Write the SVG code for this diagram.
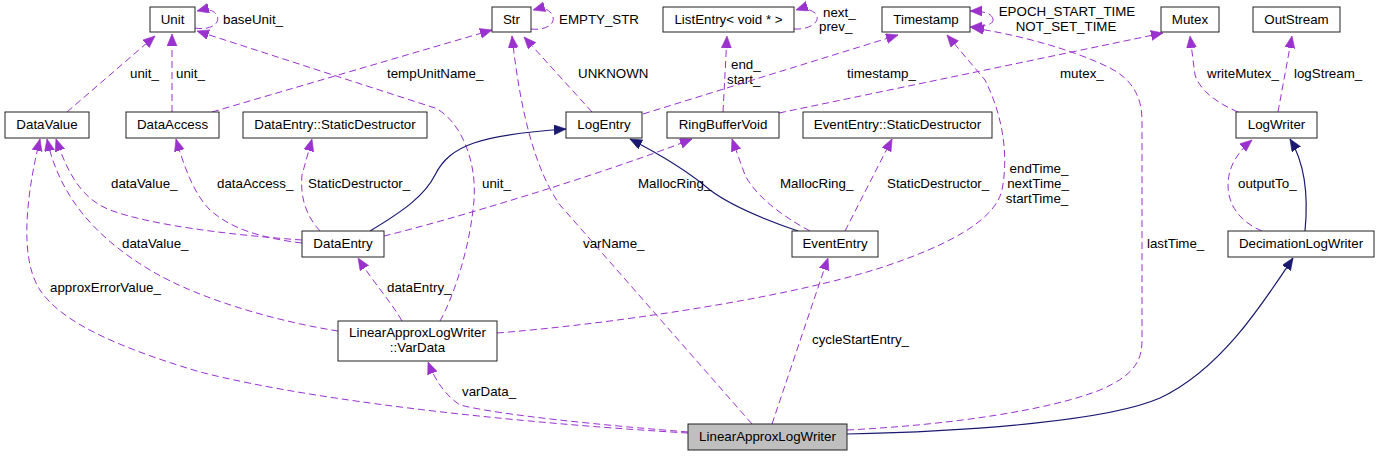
<svg xmlns="http://www.w3.org/2000/svg" width="1381" height="456" viewBox="0 0 1381 456">
<style>
text{font-family:"Liberation Sans",Arial,Helvetica,sans-serif;font-size:13.33px;fill:#000}
.n rect{fill:#fff;stroke:#222;stroke-width:1}
.n text{text-anchor:middle}
.u{fill:none;stroke:#9a32cd;stroke-width:1;stroke-dasharray:7,4;marker-end:url(#ap)}
.i{fill:none;stroke:#191970;stroke-width:1.2;marker-end:url(#ab)}
.m{text-anchor:middle}
</style>
<defs>
<marker id="ap" markerUnits="userSpaceOnUse" markerWidth="13" markerHeight="11" refX="12" refY="5" orient="auto"><path d="M0,0 L12,5 L0,10 z" fill="#9a32cd" stroke="#9a32cd" stroke-width="0.6"/></marker>
<marker id="ab" markerUnits="userSpaceOnUse" markerWidth="13" markerHeight="11" refX="12" refY="5" orient="auto"><path d="M0,0 L12,5 L0,10 z" fill="#191970" stroke="#191970" stroke-width="0.6"/></marker>
</defs>
<rect width="1381" height="456" fill="#fff"/>
<g id="edges">
<path class="u" d="M195,28 C212,31 222,22 216,14 C212,9 205,9 197,11"/>
<text x="223" y="24">baseUnit_</text>
<path class="u" d="M67,112 L155,36"/>
<text x="130" y="78">unit_</text>
<path class="u" d="M172,112 L172,34"/>
<text x="176" y="78">unit_</text>
<path class="u" d="M212,112 L492,30"/>
<text x="387" y="78">tempUnitName_</text>
<path class="u" d="M440,321 C452,300 470,250 474,200 C477,160 460,120 435,108 L197,31"/>
<text x="482" y="188">unit_</text>
<path class="u" d="M531,29 C548,31 558,22 551,13 C547,8 540,8 533,10"/>
<text x="559" y="24">EMPTY_STR</text>
<path class="u" d="M592,112 L524,37"/>
<text x="578" y="78">UNKNOWN</text>
<path class="u" d="M752,424 L560,205 C535,170 520,110 512,36"/>
<text x="583" y="248">varName_</text>
<path class="u" d="M794,29 C812,30 822,20 815,13 C810,9 802,8 796,10"/>
<text x="823" y="17">next_</text>
<text x="819" y="31">prev_</text>
<path class="u" d="M723,112 L727,36"/>
<text x="731" y="69">end_</text>
<text x="727" y="84">start_</text>
<path class="u" d="M643,114 L898,35"/>
<text x="847" y="78">timestamp_</text>
<path class="u" d="M779,113 L1163,33"/>
<text x="1060" y="78">mutex_</text>
<path class="u" d="M993,19 C994,24 986,27 970,27"/>
<path class="u" d="M993,19 C992,14 985,11 970,11"/>
<text class="m" x="1067" y="16">EPOCH_START_TIME</text>
<text class="m" x="1066" y="31">NOT_SET_TIME</text>
<path class="u" d="M497,333 C600,325 780,300 880,268 C950,245 995,220 1002,190 C1008,160 1005,120 985,80 L947,35"/>
<text class="m" x="1039" y="173">endTime_</text>
<text class="m" x="1038" y="188">nextTime_</text>
<text class="m" x="1037" y="203">startTime_</text>
<path class="u" d="M847,430 C950,425 1050,410 1100,390 C1135,375 1142,360 1142,340 L1142,120 C1142,95 1130,78 1110,68 C1070,48 1010,33 972,28"/>
<text x="1147" y="248">lastTime_</text>
<path class="u" d="M1238,112 C1215,102 1200,90 1195,75 L1190,36"/>
<text x="1207" y="78">writeMutex_</text>
<path class="u" d="M1278,112 L1292,36"/>
<text x="1294" y="78">logStream_</text>
<path class="u" d="M1262,231 C1240,222 1228,205 1228,185 C1228,165 1240,150 1252,140"/>
<text x="1238" y="188">outputTo_</text>
<path class="i" d="M1305,231 C1308,200 1306,165 1290,139"/>
<path class="i" d="M847,434 C980,431 1110,420 1160,398 C1220,370 1262,305 1293,258"/>
<path class="i" d="M370,231 C405,210 425,195 435,175 C450,145 480,135 566,129"/>
<path class="i" d="M798,231 C760,218 730,205 710,190 C690,173 665,157 630,139"/>
<path class="u" d="M384,236 C450,220 600,175 692,139"/>
<text x="638" y="188">MallocRing_</text>
<path class="u" d="M810,231 C780,215 755,195 745,175 L732,139"/>
<text x="780" y="188">MallocRing_</text>
<path class="u" d="M845,231 L892,139"/>
<text x="887" y="188">StaticDestructor_</text>
<path class="u" d="M320,231 C305,215 300,195 302,175 L312,139"/>
<text x="308" y="188">StaticDestructor_</text>
<path class="u" d="M302,243 C260,238 230,228 210,210 C195,195 185,170 176,139"/>
<text x="217" y="188">dataAccess_</text>
<path class="u" d="M302,240 C230,235 150,225 110,210 C85,200 70,180 56,139"/>
<text x="111" y="188">dataValue_</text>
<path class="u" d="M338,331 C280,322 200,300 150,270 C100,240 60,200 47,139"/>
<text x="122" y="248">dataValue_</text>
<path class="u" d="M688,433 C550,425 330,405 200,372 C110,345 60,320 40,290 C20,260 25,200 40,139"/>
<text x="50" y="292">approxErrorValue_</text>
<path class="u" d="M402,321 C390,300 375,285 358,258"/>
<text x="387" y="292">dataEntry_</text>
<path class="u" d="M688,432 C600,425 500,415 460,405 C445,395 435,380 428,362"/>
<text x="462" y="396">varData_</text>
<path class="u" d="M772,424 L828,258"/>
<text x="812" y="344">cycleStartEntry_</text>
</g>
<g id="Unit" class="n"><rect x="150" y="7" width="45" height="25"/><text x="172.5" y="23.5">Unit</text></g>
<g id="Str" class="n"><rect x="492" y="7" width="39" height="25"/><text x="511.5" y="23.5">Str</text></g>
<g id="ListEntry" class="n"><rect x="663" y="7" width="131" height="25"/><text x="728.5" y="23.5">ListEntry&lt; void * &gt;</text></g>
<g id="Timestamp" class="n"><rect x="882" y="7" width="88" height="25"/><text x="926" y="23.5">Timestamp</text></g>
<g id="Mutex" class="n"><rect x="1161" y="7" width="58" height="25"/><text x="1190" y="23.5">Mutex</text></g>
<g id="OutStream" class="n"><rect x="1253" y="7" width="87" height="25"/><text x="1296.5" y="23.5">OutStream</text></g>
<g id="DataValue" class="n"><rect x="5" y="112" width="84" height="26"/><text x="47" y="129">DataValue</text></g>
<g id="DataAccess" class="n"><rect x="126" y="112" width="93" height="26"/><text x="172.5" y="129">DataAccess</text></g>
<g id="DataEntryStaticDestructor" class="n"><rect x="243" y="112" width="184" height="26"/><text x="335" y="129">DataEntry::StaticDestructor</text></g>
<g id="LogEntry" class="n"><rect x="566" y="112" width="76" height="26"/><text x="604" y="129">LogEntry</text></g>
<g id="RingBufferVoid" class="n"><rect x="667" y="112" width="112" height="26"/><text x="723" y="129">RingBufferVoid</text></g>
<g id="EventEntryStaticDestructor" class="n"><rect x="803" y="112" width="189" height="26"/><text x="897.5" y="129">EventEntry::StaticDestructor</text></g>
<g id="LogWriter" class="n"><rect x="1236" y="112" width="81" height="26"/><text x="1276.5" y="129">LogWriter</text></g>
<g id="DataEntry" class="n"><rect x="302" y="231" width="82" height="26"/><text x="343" y="248">DataEntry</text></g>
<g id="EventEntry" class="n"><rect x="792" y="231" width="86" height="26"/><text x="835" y="248">EventEntry</text></g>
<g id="DecimationLogWriter" class="n"><rect x="1228" y="231" width="146" height="26"/><text x="1301" y="248">DecimationLogWriter</text></g>
<g id="VarData" class="n"><rect x="338" y="321" width="159" height="40"/><text x="417.5" y="337">LinearApproxLogWriter</text><text x="417.5" y="352">::VarData</text></g>
<g id="LinearApproxLogWriter" class="n"><rect x="688" y="424" width="159" height="26" style="fill:#bfbfbf"/><text x="767.5" y="441">LinearApproxLogWriter</text></g>
</svg>
